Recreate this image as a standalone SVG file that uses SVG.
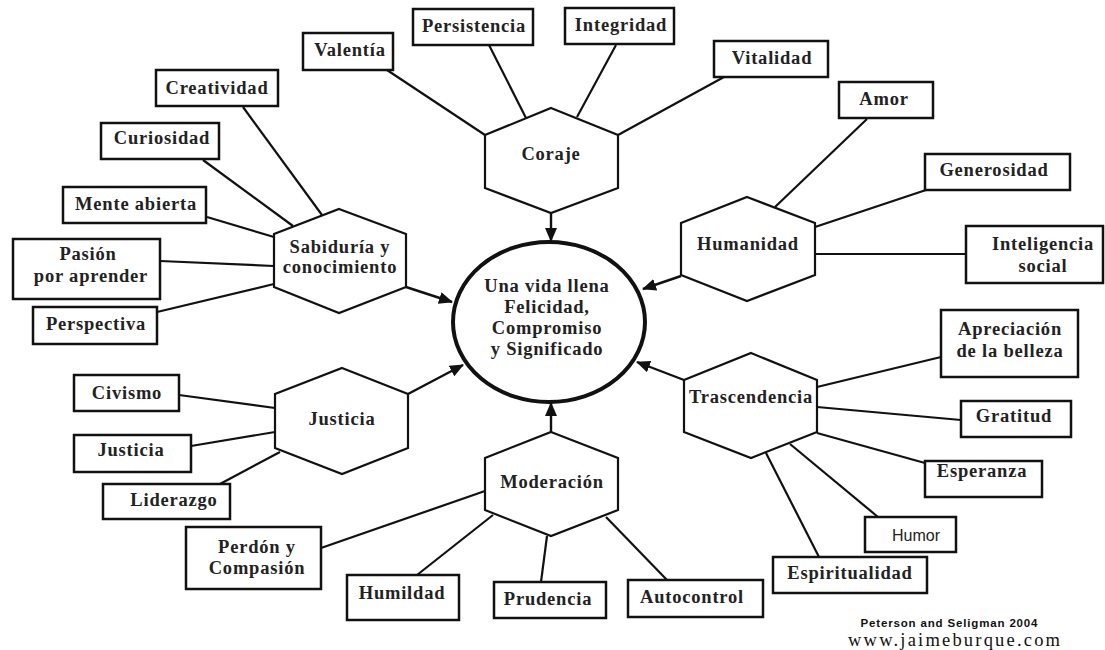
<svg xmlns="http://www.w3.org/2000/svg" width="1105" height="650" viewBox="0 0 1105 650">
<style>
.box{fill:#fff;stroke:#111;stroke-width:2.5}
.hex{fill:#fff;stroke:#111;stroke-width:2.2}
.ln{stroke:#111;stroke-width:2.2;fill:none}
.ar{stroke:#111;stroke-width:2.4;fill:none;marker-end:url(#ah)}
.lbl{font-family:"Liberation Serif","Times New Roman",serif;font-weight:bold;font-size:18.5px;letter-spacing:0.8px;fill:#222;text-anchor:middle}
.sans{font-family:"Liberation Sans",Arial,sans-serif;font-size:16px;fill:#222;text-anchor:middle}
</style>
<defs>
<marker id="ah" viewBox="0 0 14 12" refX="13" refY="6" markerWidth="14" markerHeight="12" markerUnits="userSpaceOnUse" orient="auto">
<path d="M0,0 L14,6 L0,12 z" fill="#111"/>
</marker>
</defs>
<rect width="1105" height="650" fill="#fff"/>
<g id="connectors">
<line class="ln" x1="243" y1="107" x2="322" y2="215"/>
<line class="ln" x1="203" y1="160" x2="293" y2="226"/>
<line class="ln" x1="207" y1="217" x2="274" y2="237"/>
<line class="ln" x1="160" y1="261" x2="274" y2="266"/>
<line class="ln" x1="157" y1="312" x2="274" y2="284"/>
<line class="ln" x1="387" y1="70" x2="485" y2="135"/>
<line class="ln" x1="489" y1="45" x2="526" y2="118"/>
<line class="ln" x1="616" y1="45" x2="577" y2="117"/>
<line class="ln" x1="724" y1="77" x2="618" y2="135"/>
<line class="ln" x1="867" y1="119" x2="775" y2="207"/>
<line class="ln" x1="926" y1="190" x2="815" y2="227"/>
<line class="ln" x1="966" y1="254" x2="815" y2="254"/>
<line class="ln" x1="179" y1="395" x2="275" y2="408"/>
<line class="ln" x1="191" y1="446" x2="275" y2="432"/>
<line class="ln" x1="220" y1="484" x2="280" y2="452"/>
<line class="ln" x1="321" y1="548" x2="485" y2="491"/>
<line class="ln" x1="417" y1="575" x2="493" y2="515"/>
<line class="ln" x1="541" y1="582" x2="547" y2="536"/>
<line class="ln" x1="667" y1="580" x2="606" y2="517"/>
<line class="ln" x1="941" y1="357" x2="817" y2="387"/>
<line class="ln" x1="961" y1="420" x2="817" y2="407"/>
<line class="ln" x1="925" y1="463" x2="817" y2="433"/>
<line class="ln" x1="878" y1="517" x2="790" y2="444"/>
<line class="ln" x1="819" y1="557" x2="766" y2="453"/>
<line class="ar" x1="551" y1="213" x2="551" y2="241"/>
<line class="ar" x1="406" y1="287" x2="452" y2="302"/>
<line class="ar" x1="681" y1="276" x2="643" y2="289"/>
<line class="ar" x1="408" y1="394" x2="463" y2="365"/>
<line class="ar" x1="684" y1="380" x2="637" y2="362"/>
<line class="ar" x1="551" y1="432" x2="551" y2="403"/>
</g>
<g id="center">
<ellipse cx="549" cy="322" rx="96" ry="80" fill="#fff" stroke="#111" stroke-width="4"/>
<text class="lbl" x="547" y="292">Una vida llena</text>
<text class="lbl" x="547" y="313">Felicidad,</text>
<text class="lbl" x="547" y="334">Compromiso</text>
<text class="lbl" x="547" y="355">y Significado</text>
</g>
<g id="sabiduria">
<polygon class="hex" points="339,209 406,234 406,287 339,313 274,287 274,234"/>
<text class="lbl" x="340" y="253">Sabiduría y</text>
<text class="lbl" x="340" y="273">conocimiento</text>
</g>
<g id="coraje">
<polygon class="hex" points="551,108 618,135 618,188 551,213 485,188 485,135"/>
<text class="lbl" x="551" y="160">Coraje</text>
</g>
<g id="humanidad">
<polygon class="hex" points="747,197 815,223 815,275 747,301 681,275 681,223"/>
<text class="lbl" x="748" y="250">Humanidad</text>
</g>
<g id="justicia-hex">
<polygon class="hex" points="342,368 408,394 408,448 342,474 275,448 275,394"/>
<text class="lbl" x="342" y="425">Justicia</text>
</g>
<g id="moderacion">
<polygon class="hex" points="551,432 618,458 618,510 551,536 485,510 485,458"/>
<text class="lbl" x="552" y="488">Moderación</text>
</g>
<g id="trascendencia">
<polygon class="hex" points="751,353 817,380 817,432 751,458 684,432 684,380"/>
<text class="lbl" x="751" y="403">Trascendencia</text>
</g>
<g id="creatividad"><rect class="box" x="156" y="70" width="122" height="36"/><text class="lbl" x="217" y="94">Creatividad</text></g>
<g id="curiosidad"><rect class="box" x="101" y="123" width="118" height="36"/><text class="lbl" x="162" y="144">Curiosidad</text></g>
<g id="mente-abierta"><rect class="box" x="63" y="187" width="143" height="36"/><text class="lbl" x="136" y="210">Mente abierta</text></g>
<g id="pasion"><rect class="box" x="13" y="239" width="147" height="60"/><text class="lbl" x="88" y="260">Pasión</text><text class="lbl" x="91" y="282">por aprender</text></g>
<g id="perspectiva"><rect class="box" x="33" y="307" width="124" height="37"/><text class="lbl" x="96" y="330">Perspectiva</text></g>
<g id="valentia"><rect class="box" x="303" y="33" width="90" height="37"/><text class="lbl" x="350" y="56">Valentía</text></g>
<g id="persistencia"><rect class="box" x="413" y="9" width="120" height="36"/><text class="lbl" x="474" y="32">Persistencia</text></g>
<g id="integridad"><rect class="box" x="565" y="8" width="109" height="36"/><text class="lbl" x="621" y="31">Integridad</text></g>
<g id="vitalidad"><rect class="box" x="714" y="41" width="114" height="36"/><text class="lbl" x="772" y="64">Vitalidad</text></g>
<g id="amor"><rect class="box" x="839" y="82" width="94" height="36"/><text class="lbl" x="884" y="105">Amor</text></g>
<g id="generosidad"><rect class="box" x="925" y="154" width="145" height="36"/><text class="lbl" x="994" y="176">Generosidad</text></g>
<g id="inteligencia-social"><rect class="box" x="966" y="226" width="137" height="57"/><text class="lbl" x="1043" y="250">Inteligencia</text><text class="lbl" x="1043" y="272">social</text></g>
<g id="apreciacion"><rect class="box" x="941" y="310" width="137" height="67"/><text class="lbl" x="1010" y="335">Apreciación</text><text class="lbl" x="1010" y="357">de la belleza</text></g>
<g id="gratitud"><rect class="box" x="961" y="401" width="110" height="36"/><text class="lbl" x="1014" y="422">Gratitud</text></g>
<g id="esperanza"><rect class="box" x="925" y="461" width="117" height="36"/><text class="lbl" x="982" y="477">Esperanza</text></g>
<g id="humor"><rect class="box" x="865" y="517" width="91" height="35"/><text class="sans" x="916" y="541">Humor</text></g>
<g id="espiritualidad"><rect class="box" x="773" y="557" width="154" height="36"/><text class="lbl" x="850" y="579">Espiritualidad</text></g>
<g id="autocontrol"><rect class="box" x="628" y="580" width="135" height="37"/><text class="lbl" x="692" y="603">Autocontrol</text></g>
<g id="prudencia"><rect class="box" x="494" y="582" width="112" height="36"/><text class="lbl" x="548" y="605">Prudencia</text></g>
<g id="humildad"><rect class="box" x="347" y="575" width="112" height="45"/><text class="lbl" x="402" y="599">Humildad</text></g>
<g id="perdon"><rect class="box" x="186" y="527" width="135" height="62"/><text class="lbl" x="257" y="553">Perdón y</text><text class="lbl" x="257" y="574">Compasión</text></g>
<g id="liderazgo"><rect class="box" x="103" y="484" width="127" height="35"/><text class="lbl" x="174" y="506">Liderazgo</text></g>
<g id="justicia-box"><rect class="box" x="74" y="435" width="117" height="37"/><text class="lbl" x="131" y="456">Justicia</text></g>
<g id="civismo"><rect class="box" x="74" y="375" width="105" height="36"/><text class="lbl" x="127" y="399">Civismo</text></g>
<g id="credits">
<text x="949" y="627" font-family="Liberation Sans,Arial,sans-serif" font-weight="bold" font-size="11.5" fill="#111" text-anchor="middle" textLength="177" lengthAdjust="spacing">Peterson and Seligman 2004</text>
<text x="954" y="646" font-family="Liberation Serif,Times New Roman,serif" font-size="18.5" fill="#111" text-anchor="middle" textLength="212" lengthAdjust="spacing">www.jaimeburque.com</text>
</g>
</svg>
